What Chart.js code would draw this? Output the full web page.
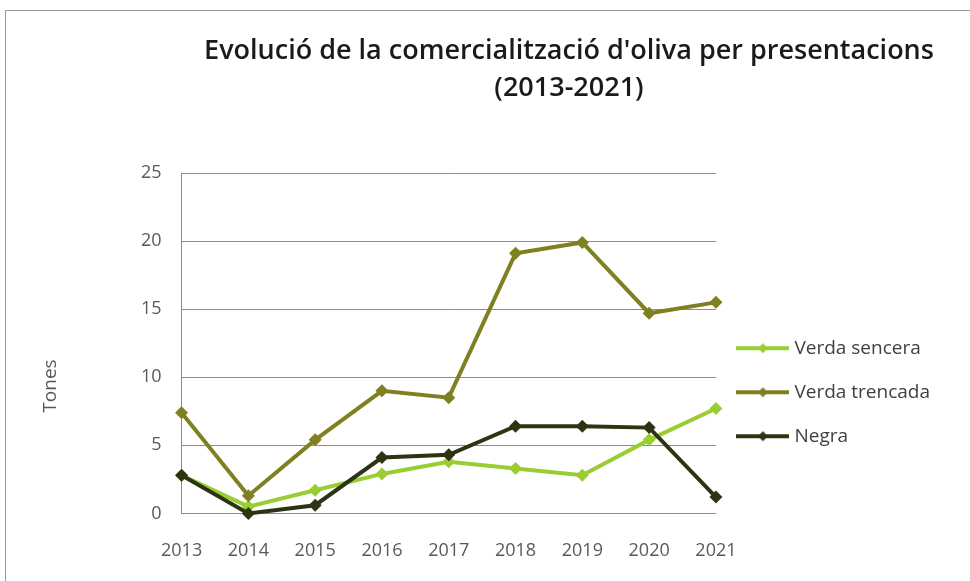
<!DOCTYPE html>
<html>
<head>
<meta charset="utf-8">
<script src="https://cdn.jsdelivr.net/npm/chart.js@4.4.1/dist/chart.umd.min.js"></script>
<style>
  body { margin:0; background:#fff; overflow:hidden; }
  #frame { position:absolute; left:5px; top:10px; width:1000px; height:600px; border:1px solid #9a9a9a; }
  #wrap { position:absolute; left:6px; top:11px; width:964px; height:570px; }
</style>
</head>
<body>
<div id="frame"></div>
<div id="wrap"><canvas id="olive_chart" width="964" height="570"></canvas></div>
<script>
const years = ["2013", "2014", "2015", "2016", "2017", "2018", "2019", "2020", "2021"];
const verdaSencera = [2.8, 0.5, 1.7, 2.9, 3.8, 3.3, 2.8, 5.4, 7.7];
const verdaTrencada = [7.4, 1.3, 5.4, 9.0, 8.5, 19.1, 19.9, 14.7, 15.5];
const negra = [2.8, 0, 0.6, 4.1, 4.3, 6.4, 6.4, 6.3, 1.2];
const titleLines = ["Evolució de la comercialització d'oliva per presentacions", "(2013-2021)"];
const yTitle = "Tones";

// legend sample: line with a small diamond
function legendMark(color){
    let c = document.createElement("canvas");
    c.width = 53; c.height = 12;
    let g = c.getContext("2d");
    g.strokeStyle = color; g.lineWidth = 4;
    g.beginPath(); g.moveTo(0, 6); g.lineTo(53, 6); g.stroke();
    g.fillStyle = color;
    g.beginPath(); g.moveTo(26.5, 1); g.lineTo(31.5, 6); g.lineTo(26.5, 11); g.lineTo(21.5, 6); g.closePath(); g.fill();
    return c;
}

// title and axis title drawn at fixed spots like the original
const textPlugin = {
    id:"textPlugin",
    afterDraw(chart){
        let ctx = chart.ctx;
        ctx.save();
        ctx.fillStyle = "#1a1a1a";
        ctx.font = "600 27px 'Open Sans'";
        ctx.textAlign = "center";
        ctx.textBaseline = "alphabetic";
        ctx.fillText(titleLines[0], 563, 48);
        ctx.fillText(titleLines[1], 563, 85);
        ctx.fillStyle = "#595959";
        ctx.font = "19px 'Open Sans'";
        ctx.textBaseline = "middle";
        ctx.translate(45, 375);
        ctx.rotate(-Math.PI / 2);
        ctx.fillText(yTitle, 0, 0);
        ctx.restore();
    }
};

let ctx1 = document.getElementById("olive_chart");
let olive_chart = new Chart(ctx1, {
    type:"line",
    plugins:[textPlugin],
    data:{
        labels:years,
        datasets:[
            {
                label:"Verda sencera",
                data:verdaSencera,
                borderColor:"#9acd32",
                backgroundColor:"#9acd32",
                order:3
            },
            {
                label:"Verda trencada",
                data:verdaTrencada,
                borderColor:"#7f801f",
                backgroundColor:"#7f801f",
                order:2
            },
            {
                label:"Negra",
                data:negra,
                borderColor:"#2d3413",
                backgroundColor:"#2d3413",
                order:1
            }
        ]
    },
    options:{
        responsive:false,
        animation:false,
        layout:{ padding:{ top:162, left:115, right:30, bottom:0 } },
        datasets:{ line:{ clip:false } },
        elements:{
            line:{ borderWidth:4, tension:0 },
            point:{ pointStyle:"rectRot", radius:6.5, hoverRadius:6.5, borderWidth:0 }
        },
        scales:{
            x:{
                offset:false,
                grid:{ display:false },
                border:{ display:false },
                ticks:{ color:"#595959", font:{ family:"Open Sans", size:18 }, padding:19 }
            },
            y:{
                min:0,
                max:25,
                ticks:{ stepSize:5, color:"#595959", font:{ family:"Open Sans", size:18 }, padding:20 },
                grid:{ color:"#8c8c8c", lineWidth:1, drawTicks:false },
                border:{ display:true, color:"#8c8c8c" }
            }
        },
        plugins:{
            tooltip:{ enabled:false },
            legend:{
                position:"right",
                maxWidth:300,
                title:{ display:true, text:" ", padding:{ top:16, bottom:0 } },
                labels:{
                    usePointStyle:true,
                    pointStyleWidth:44,
                    padding:25,
                    color:"#404040",
                    font:{ family:"Open Sans", size:19 },
                    sort:(a, b) => a.datasetIndex - b.datasetIndex,
                    generateLabels:(chart) => {
                        let items = Chart.defaults.plugins.legend.labels.generateLabels(chart);
                        items.forEach(it => {
                            it.pointStyle = legendMark(chart.data.datasets[it.datasetIndex].borderColor);
                        });
                        return items;
                    }
                }
            }
        }
    }
});
</script>
</body>
</html>
